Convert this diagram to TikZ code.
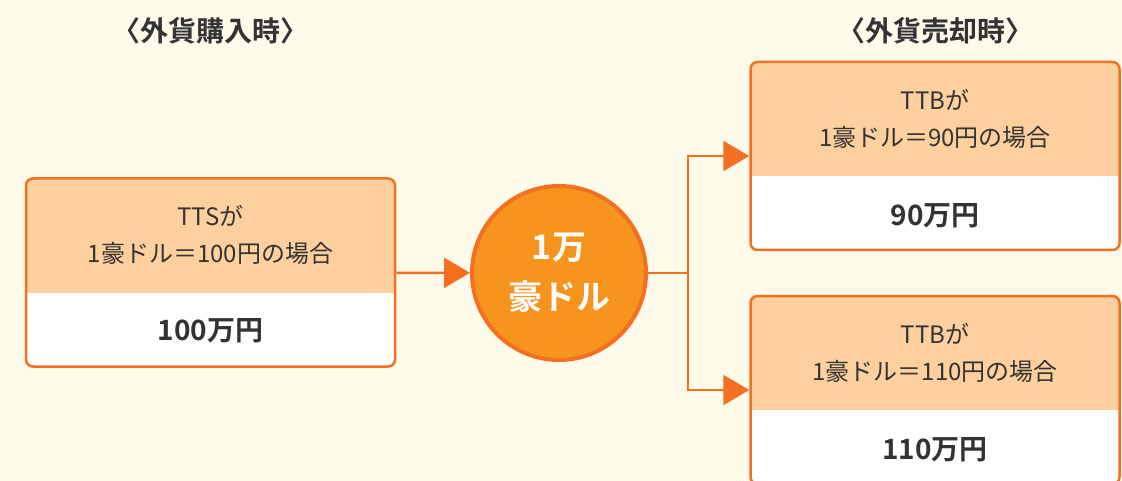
\documentclass[tikz,border=0pt]{standalone}
\usepackage{fontspec}
\setmainfont{Noto Sans CJK JP}[BoldFont={Noto Sans CJK JP Bold}]
\usetikzlibrary{arrows.meta,positioning}
\definecolor{cream}{HTML}{FFFBEA}
\definecolor{peach}{HTML}{FDD09D}
\definecolor{rim}{HTML}{F37021}
\definecolor{coinfill}{HTML}{F7941D}
\definecolor{ink}{HTML}{333333}
\tikzset{
chart/.style={x=1pt,y=-1pt},
card/.style={draw=rim,line width=2.5pt,fill=white,rounded corners=7pt,
minimum width=369pt,minimum height=188pt,inner sep=0pt,
path picture={\fill[peach,sharp corners] (path picture bounding box.north west)
rectangle ([yshift=-114pt]path picture bounding box.north east);}},
rate/.style={text=ink,font=\fontsize{24}{37}\selectfont,align=center},
amount/.style={text=ink,font=\bfseries\fontsize{28}{34}\selectfont},
coin/.style={circle,draw=rim,line width=4pt,fill=coinfill,minimum size=174pt,
text=white,font=\bfseries\fontsize{34}{50}\selectfont,align=center},
heading/.style={text=ink,font=\bfseries\fontsize{28}{30}\selectfont},
link/.style={draw=rim,line width=2.5pt},
flow/.style={link,-{Triangle[length=26pt,width=30pt]}},
}
\begin{document}
\begin{tikzpicture}[chart]
\fill[cream] (0,0) rectangle (1122,481);
\clip (0,0) rectangle (1122,481);
% buying side
\node[card] (buy) at (210.5,272.5) {};
\node[rate] (buyrate) at ([yshift=-58pt]buy.north) {TTSが\\1豪ドル＝100円の場合};
\node[amount] (buyamt) at ([yshift=37pt]buy.south) {100万円};
\node[heading] (buyhead) at (buy.north |- 0,31) {〈外貨購入時〉};
% the money
\node[coin] (coin) at (559,273) {1万\\豪ドル};
% selling side
\node[card] (sellhi) at (935,156) {};
\node[rate] (sellhirate) at ([yshift=-58pt]sellhi.north) {TTBが\\1豪ドル＝90円の場合};
\node[amount] (sellhiamt) at ([yshift=36pt]sellhi.south) {90万円};
\node[card] (selllo) at (935,390) {};
\node[rate] (sellorate) at ([yshift=-58pt]selllo.north) {TTBが\\1豪ドル＝110円の場合};
\node[amount] (selloamt) at ([yshift=36pt]selllo.south) {110万円};
\node[heading] (sellhead) at (sellhi.north |- 0,31) {〈外貨売却時〉};
\coordinate (fork) at (688,273);
\draw[flow] (buy) -- (coin);
\draw[link] (coin) -- (fork);
\draw[flow] (fork) |- (sellhi.west);
\draw[flow] (fork) |- (selllo.west);
\end{tikzpicture}
\end{document}
